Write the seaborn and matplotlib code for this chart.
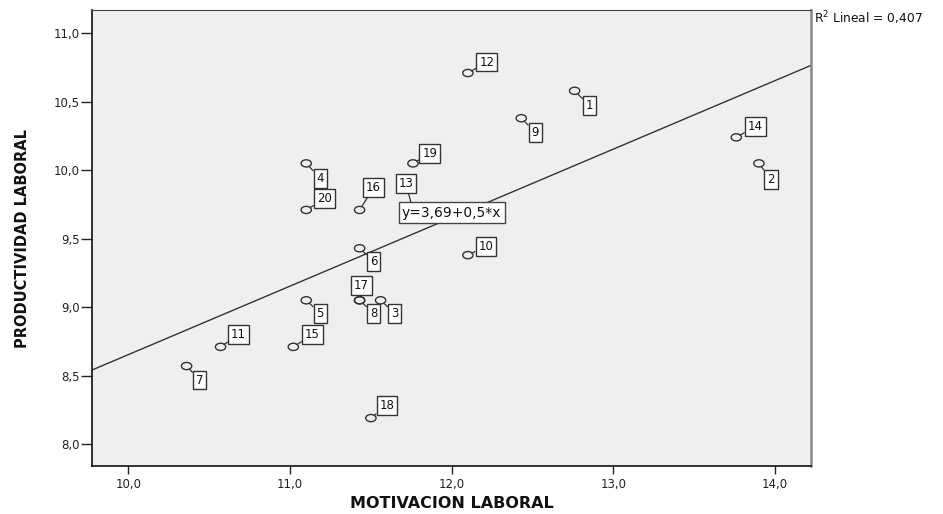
import numpy as np
import pandas as pd
import matplotlib
matplotlib.use("Agg")
import matplotlib.pyplot as plt
import seaborn as sns
from matplotlib.path import Path

# Case numbers and values
casos = list(range(1, 21))
motivacion = [12.76, 13.90, 11.56, 11.10, 11.10, 11.43, 10.36, 11.43, 12.43, 12.10,
              10.57, 12.10, 11.76, 13.76, 11.02, 11.43, 11.43, 11.50, 11.76, 11.10]
productividad = [10.58, 10.05, 9.05, 10.05, 9.05, 9.43, 8.57, 9.05, 10.38, 9.38,
                 8.71, 10.71, 9.71, 10.24, 8.71, 9.71, 9.05, 8.19, 10.05, 9.71]
x_ticks = [10.0, 11.0, 12.0, 13.0, 14.0]
y_ticks = [8.0, 8.5, 9.0, 9.5, 10.0, 10.5, 11.0]
ecuacion = "y=3,69+0,5*x"
r2_texto = "R$^2$ Lineal = 0,407"

df = pd.DataFrame({"caso": casos, "MOTIVACION LABORAL": motivacion,
                   "PRODUCTIVIDAD LABORAL": productividad})

# label box offsets (pixels, right / down) like SPSS places them
offsets = {1: (15, 15), 2: (12, 16), 3: (14, 13), 4: (14, 15), 5: (14, 13),
           6: (14, 13), 7: (13, 14), 8: (14, 13), 9: (14, 14), 10: (18, -9),
           11: (18, -12), 12: (19, -11), 13: (-7, -26), 14: (19, -11), 15: (19, -12),
           16: (14, -22), 17: (2, -15), 18: (16, -13), 19: (17, -10), 20: (18, -11)}

sns.set_style("white")
plt.rcParams["font.family"] = ["DejaVu Sans"]

fig, ax = plt.subplots(figsize=(9.43, 5.14), dpi=100)
fig.subplots_adjust(left=0.0976, right=0.86, top=0.9805, bottom=0.0934)
ax.set_facecolor("#efefef")
ax.set_xlim(9.775, 14.222)
ax.set_ylim(7.84, 11.17)

# slightly flattened circle, the original is stretched sideways
circ = Path.unit_circle()
ellipse = Path(circ.vertices * np.array([1.0, 0.7]), circ.codes)

sns.regplot(data=df, x="MOTIVACION LABORAL", y="PRODUCTIVIDAD LABORAL", ax=ax,
            scatter=False, ci=None, truncate=False,
            line_kws=dict(color="#333333", lw=1.0, zorder=2))
sns.scatterplot(data=df, x="MOTIVACION LABORAL", y="PRODUCTIVIDAD LABORAL", ax=ax,
                marker=ellipse, s=55, facecolor="none", edgecolor="#333333",
                linewidth=1.0, zorder=3)

for c, xv, yv in zip(casos, motivacion, productividad):
    dx, dy = offsets[c]
    ax.annotate(str(c), xy=(xv, yv), xytext=(dx, -dy), textcoords="offset pixels",
                ha="center", va="center", fontsize=8.5, color="#111111", zorder=4,
                bbox=dict(boxstyle="square,pad=0.25", fc="white", ec="#333333", lw=1),
                arrowprops=dict(arrowstyle="-", color="#333333", lw=0.9,
                                shrinkA=0, shrinkB=3))

ax.text(12.0, 9.69, ecuacion, ha="center", va="center", fontsize=10, color="#111111",
        zorder=6, bbox=dict(boxstyle="square,pad=0.25", fc="white", ec="#444444", lw=1))
ax.text(1.004, 0.983, r2_texto, transform=ax.transAxes, ha="left", va="center",
        fontsize=8.8, color="#111111")

ax.set_xticks(x_ticks)
ax.set_yticks(y_ticks)
ax.set_xticklabels([f"{v:.1f}".replace(".", ",") for v in x_ticks])
ax.set_yticklabels([f"{v:.1f}".replace(".", ",") for v in y_ticks])
ax.tick_params(axis="x", direction="out", length=6, width=1, pad=3, labelsize=8.5,
               colors="#222222", bottom=True)
ax.tick_params(axis="y", direction="out", length=8, width=1, pad=1, labelsize=8.5,
               colors="#222222", left=True)

ax.set_xlabel("MOTIVACION LABORAL", fontsize=11.5, fontweight="bold", color="#111111")
ax.set_ylabel("PRODUCTIVIDAD LABORAL", fontsize=10.5, fontweight="bold", color="#111111")
ax.xaxis.set_label_coords(0.5, -0.066)
ax.yaxis.set_label_coords(-0.086, 0.5)

for s in ["left", "bottom"]:
    ax.spines[s].set_color("#111111")
    ax.spines[s].set_linewidth(1.2)
ax.spines["top"].set_color("#444444")
ax.spines["right"].set_color("#888888")
ax.spines["right"].set_linewidth(1.8)

plt.savefig("out.png", dpi=100)
